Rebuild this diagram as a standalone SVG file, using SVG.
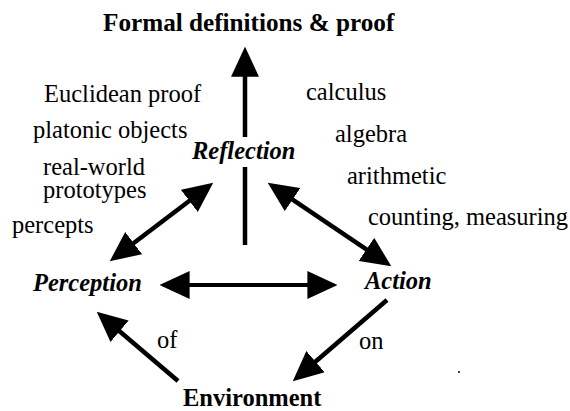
<svg xmlns="http://www.w3.org/2000/svg" width="570" height="411" viewBox="0 0 570 411">
<style>
text{font-family:"Liberation Serif","Times New Roman",Times,"DejaVu Serif",serif;font-size:24.5px;fill:#000}
.b{font-weight:bold}
.bi{font-weight:bold;font-style:italic}
.ln{stroke:#000;stroke-width:4.5;fill:none}
</style>
<defs>
<marker id="ah" markerUnits="userSpaceOnUse" markerWidth="30" markerHeight="28" viewBox="0 0 29 27" refX="19" refY="13.5" orient="auto-start-reverse">
<path d="M0,0 L29,13.5 L0,27 z" fill="#000"/>
</marker>
</defs>
<rect width="570" height="411" fill="#fff"/>
<g font-family="Liberation Serif, Times New Roman, serif">
<g id="formal"><text class="b" x="103" y="31" style="font-size:25.2px">Formal definitions &amp; proof</text></g>
<g id="reflection"><text class="bi" x="192" y="159">Reflection</text></g>
<g id="perception"><text class="bi" x="33" y="291">Perception</text></g>
<g id="action"><text class="bi" x="365" y="289">Action</text></g>
<g id="environment"><text class="b" x="183" y="406">Environment</text></g>
<g id="labels">
<text x="44" y="102">Euclidean proof</text>
<text x="33" y="138">platonic objects</text>
<text x="43" y="175">real-world</text>
<text x="43" y="198">prototypes</text>
<text x="12" y="233">percepts</text>
<text x="306" y="100">calculus</text>
<text x="335" y="142">algebra</text>
<text x="347" y="184">arithmetic</text>
<text x="368" y="225">counting, measuring</text>
<text x="157" y="348">of</text>
<text x="359" y="349">on</text>
</g>
</g>
<g id="connectors">
<line class="ln" x1="245" y1="137" x2="245" y2="57" marker-end="url(#ah)"/>
<line class="ln" x1="245" y1="167" x2="245" y2="245"/>
<line class="ln" x1="118" y1="255" x2="205" y2="189" marker-start="url(#ah)" marker-end="url(#ah)"/>
<line class="ln" x1="276.3" y1="188.6" x2="382.7" y2="260.4" marker-start="url(#ah)" marker-end="url(#ah)"/>
<line class="ln" x1="170" y1="285" x2="327" y2="285" style="stroke-width:4" marker-start="url(#ah)" marker-end="url(#ah)"/>
<line class="ln" x1="178" y1="381" x2="104.6" y2="318.5" marker-end="url(#ah)"/>
<line class="ln" x1="387" y1="300" x2="300.6" y2="374.5" marker-end="url(#ah)"/>
</g>
<circle cx="459" cy="372" r="1" fill="#000"/>
</svg>
